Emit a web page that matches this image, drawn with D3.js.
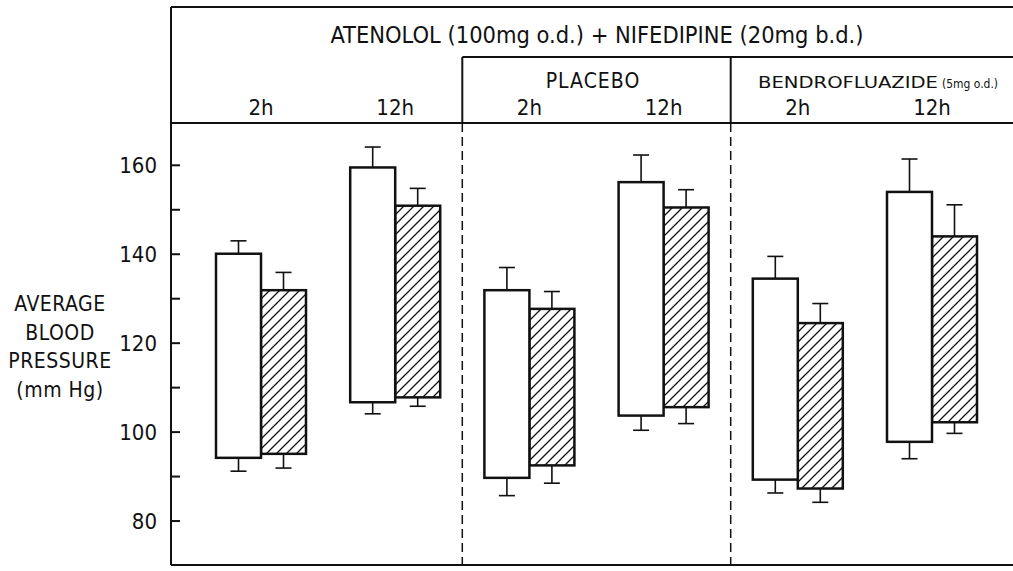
<!DOCTYPE html>
<html>
<head>
<meta charset="utf-8">
<script src="https://cdn.jsdelivr.net/npm/d3@7"></script>
<style>
  body { margin: 0; background: #fff; }
  svg { display: block; }
  text { font-family: "Liberation Sans Narrow", "DejaVu Sans Condensed", "Roboto", sans-serif; fill: #111; }
</style>
</head>
<body>
<svg width="1013" height="571"></svg>
<script>
// time points across the top
const groups = ["2h", "12h", "2h", "12h", "2h", "12h"];
const sections = [
  { label: "PLACEBO", from: 2, to: 3 },
  { label: "BENDROFLUAZIDE", note: "(5mg o.d.)", from: 4, to: 5 }
];
const titleText = "ATENOLOL (100mg o.d.) + NIFEDIPINE (20mg b.d.)";

// open bars (range low..high, with SE whiskers)
const openLow = [94.1, 106.6, 89.6, 103.6, 89.2, 97.7];
const openHigh = [140.0, 159.4, 131.8, 156.1, 134.4, 153.9];
const openErrLow = [91.1, 104.0, 85.6, 100.3, 86.2, 93.9];
const openErrHigh = [142.9, 164.0, 136.9, 162.2, 139.4, 161.3];

// hatched bars
const hatchLow = [95.0, 107.7, 92.4, 105.5, 87.2, 102.1];
const hatchHigh = [131.8, 150.8, 127.6, 150.4, 124.4, 143.9];
const hatchErrLow = [91.8, 105.7, 88.4, 101.8, 84.1, 99.6];
const hatchErrHigh = [135.8, 154.7, 131.5, 154.4, 128.8, 151.0];

const yTicks = [80, 100, 120, 140, 160];
const yMinor = [90, 110, 130, 150];
const yTitle = ["AVERAGE", "BLOOD", "PRESSURE", "(mm Hg)"];

const svg = d3.select("svg");
const width = +svg.attr("width");

const frameLeft = 171, frameTop = 7, headBottom = 123, subTop = 57, frameBottom = 565;
const barW = 45;

const y = d3.scaleLinear().domain([70, 169.4]).range([frameBottom, headBottom]);
const x = d3.scalePoint().domain(d3.range(groups.length)).range([261, 932]);

// hatch pattern
const defs = svg.append("defs");
defs.append("pattern")
    .attr("id", "hatch")
    .attr("patternUnits", "userSpaceOnUse")
    .attr("width", 10).attr("height", 10)
  .append("path")
    .attr("d", "M-2,2 l4,-4 M0,10 l10,-10 M8,12 l4,-4")
    .attr("stroke", "#111")
    .attr("stroke-width", 1.3);

// frame
const frame = svg.append("g").attr("stroke", "#111").attr("stroke-width", 2).attr("fill", "none");
frame.append("line").attr("x1", frameLeft).attr("x2", width).attr("y1", frameTop).attr("y2", frameTop);
frame.append("line").attr("x1", frameLeft).attr("x2", width).attr("y1", headBottom).attr("y2", headBottom);
frame.append("line").attr("x1", frameLeft).attr("x2", width).attr("y1", frameBottom).attr("y2", frameBottom);
frame.append("line").attr("x1", frameLeft).attr("x2", frameLeft).attr("y1", frameTop).attr("y2", frameBottom);

// section dividers
const divs = [(x(1) + x(2)) / 2, (x(3) + x(4)) / 2];
frame.append("line").attr("x1", divs[0]).attr("x2", width).attr("y1", subTop).attr("y2", subTop);
divs.forEach(d => {
  frame.append("line").attr("x1", d).attr("x2", d).attr("y1", subTop).attr("y2", headBottom);
  frame.append("line").attr("x1", d).attr("x2", d).attr("y1", headBottom).attr("y2", frameBottom)
      .attr("stroke-width", 1.5).attr("stroke-dasharray", "9,5");
});

// header text
svg.append("text")
    .attr("x", 597).attr("y", 43)
    .attr("text-anchor", "middle")
    .attr("font-size", 23)
    .attr("textLength", 533).attr("lengthAdjust", "spacingAndGlyphs")
    .text(titleText);

svg.append("text")
    .attr("x", 593).attr("y", 88)
    .attr("text-anchor", "middle")
    .attr("font-size", 21)
    .attr("letter-spacing", 1)
    .text(sections[0].label);

svg.append("text")
    .attr("x", 758).attr("y", 88)
    .attr("font-size", 16.5)
    .attr("textLength", 180).attr("lengthAdjust", "spacingAndGlyphs")
    .text(sections[1].label);
svg.append("text")
    .attr("x", 942).attr("y", 88)
    .attr("font-size", 12.5)
    .attr("textLength", 56).attr("lengthAdjust", "spacingAndGlyphs")
    .text(sections[1].note);

svg.append("g").selectAll("text")
  .data(groups)
  .join("text")
    .attr("x", (d, i) => x(i))
    .attr("y", 115)
    .attr("text-anchor", "middle")
    .attr("font-size", 22)
    .text(d => d);

// y axis
const axis = d3.axisRight(y)
    .tickValues(yTicks.concat(yMinor))
    .tickSize(9)
    .tickFormat("");
const ag = svg.append("g").attr("transform", `translate(${frameLeft},0)`).call(axis);
ag.select(".domain").remove();
ag.selectAll(".tick line").attr("stroke", "#111").attr("stroke-width", 2);

svg.append("g").selectAll("text")
  .data(yTicks)
  .join("text")
    .attr("x", 157)
    .attr("y", d => y(d) + 8)
    .attr("text-anchor", "end")
    .attr("font-size", 22)
    .text(d => d);

svg.append("g").selectAll("text")
  .data(yTitle)
  .join("text")
    .attr("x", 60)
    .attr("y", (d, i) => 311 + i * 28.5)
    .attr("text-anchor", "middle")
    .attr("font-size", 21)
    .attr("letter-spacing", 0.5)
    .text(d => d);

// bars
function drawSeries(low, high, errLow, errHigh, offset, fill) {
  const g = svg.append("g");
  const idx = d3.range(groups.length);
  const cx = i => x(i) + offset + barW / 2;
  // whiskers
  g.selectAll("line.up").data(idx).join("line")
      .attr("x1", cx).attr("x2", cx)
      .attr("y1", i => y(high[i])).attr("y2", i => y(errHigh[i]))
      .attr("stroke", "#111").attr("stroke-width", 1.6);
  g.selectAll("line.down").data(idx).join("line")
      .attr("x1", cx).attr("x2", cx)
      .attr("y1", i => y(low[i])).attr("y2", i => y(errLow[i]))
      .attr("stroke", "#111").attr("stroke-width", 1.6);
  g.selectAll("line.capU").data(idx).join("line")
      .attr("x1", i => cx(i) - 8).attr("x2", i => cx(i) + 8)
      .attr("y1", i => y(errHigh[i])).attr("y2", i => y(errHigh[i]))
      .attr("stroke", "#111").attr("stroke-width", 1.6);
  g.selectAll("line.capD").data(idx).join("line")
      .attr("x1", i => cx(i) - 8).attr("x2", i => cx(i) + 8)
      .attr("y1", i => y(errLow[i])).attr("y2", i => y(errLow[i]))
      .attr("stroke", "#111").attr("stroke-width", 1.6);
  g.selectAll("rect").data(idx).join("rect")
      .attr("x", i => x(i) + offset)
      .attr("width", barW)
      .attr("y", i => y(high[i]))
      .attr("height", i => y(low[i]) - y(high[i]))
      .attr("fill", fill)
      .attr("stroke", "#111")
      .attr("stroke-width", 2.5);
}

drawSeries(hatchLow, hatchHigh, hatchErrLow, hatchErrHigh, 0, "url(#hatch)");
drawSeries(openLow, openHigh, openErrLow, openErrHigh, -barW, "#fff");
</script>
</body>
</html>
